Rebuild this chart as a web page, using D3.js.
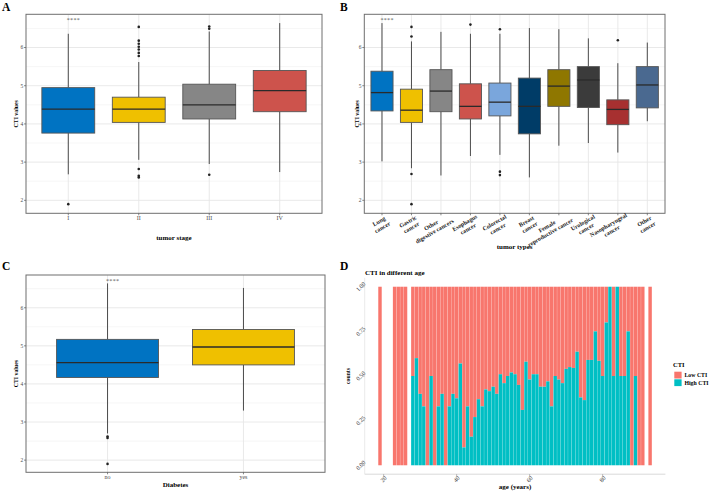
<!DOCTYPE html>
<html><head><meta charset="utf-8">
<script src="https://cdn.jsdelivr.net/npm/d3@7"></script>
<style>body{margin:0;background:#fff} svg text{font-family:"Liberation Serif","Times New Roman",serif}</style>
</head><body><svg id="c" width="713" height="491"></svg>
<script>
// ---------- DATA ----------
const jco = ["#0073C2","#EFC000","#868686","#CD534C","#7AA6DC","#003C67","#8F7700","#3B3B3B","#A73030","#4A6990"];
const sigLabel = "****";
const yTicks = [2,3,4,5,6];

const stageCats = ["I","II","III","IV"];
const stageQ1  = [3.76, 4.04, 4.13, 4.32];
const stageMed = [4.39, 4.39, 4.50, 4.87];
const stageQ3  = [4.95, 4.70, 5.04, 5.40];
const stageLo  = [2.68, 3.06, 2.95, 2.74];
const stageHi  = [6.36, 5.62, 6.42, 6.64];
const stageOut = [[1.90],[6.54,6.18,6.10,6.02,5.95,5.86,5.78,2.82,2.64,2.60],[6.55,6.49,2.67],[]];
const stageSig = 6.72;

const typeCats = ["Lung\ncancer","Gastric\ncancer","Other\ndigestive cancers","Esophagus\ncancer","Colorectal\ncancer","Breast\ncancer","Female\nreproductive cancer","Urological\ncancer","Nasopharyngeal\ncancer","Other\ncancer"];
const typeQ1  = [4.34,4.04,4.32,4.13,4.21,3.74,4.46,4.43,3.98,4.42];
const typeMed = [4.82,4.36,4.86,4.46,4.57,4.46,4.99,5.15,4.38,5.02];
const typeQ3  = [5.38,4.91,5.42,5.05,5.07,5.20,5.42,5.50,4.63,5.50];
const typeLo  = [3.02,2.84,2.65,3.16,3.19,2.60,3.43,3.50,3.25,4.07];
const typeHi  = [6.64,6.16,6.41,6.36,6.36,6.51,6.48,6.24,5.59,6.13];
const typeOut = [[],[6.54,6.29,2.69,1.90],[],[6.60],[6.48,2.75,2.66],[],[],[],[6.19],[]];
const typeSig = 6.72;

const diabCats = ["no","yes"];
const diabQ1  = [4.17, 4.50];
const diabMed = [4.56, 4.97];
const diabQ3  = [5.17, 5.43];
const diabLo  = [2.70, 3.30];
const diabHi  = [6.64, 6.52];
const diabOut = [[2.62,2.58,1.90],[]];
const diabSig = 6.70;

const ages = [19,23,24,25,26,28,29,30,31,32,33,34,35,36,37,38,39,40,41,42,43,44,45,46,47,48,49,50,51,52,53,54,55,56,57,58,59,60,61,62,63,64,65,66,67,68,69,70,71,72,73,74,75,76,77,78,79,80,81,82,83,84,85,86,87,88,89,90,91,93];
const highShare = [0,0,0,0,0,0.5,0.6,0.4,0.33,0,0.5,0,0.33,0.4,0,0.33,0.4,0.375,0.57,0.1,0.33,0.16,0.27,0.37,0.33,0.425,0.415,0.44,0.4,0.51,0.46,0.5,0.52,0.51,0.45,0.31,0.58,0.48,0.51,0.51,0.44,0.44,0.47,0.33,0.5,0.48,0.46,0.54,0.55,0.545,0.636,0.38,0.365,0.59,0.59,0.75,0.585,0.5,0.8,1,0.5,1,0.5,0.5,0.75,0,0.5,0,0,0];
const ageTicks = [20,40,60,80];
const shareTicks = [0,0.25,0.5,0.75,1];
const legendLabels = ["Low CTI","High CTI"];
const ctiColors = ["#F8766D","#00BFC4"];

// ---------- DRAW ----------
const svg = d3.select("#c");

function boxPanel(o){
  const g = svg.append("g");
  const x = d3.scalePoint().domain(d3.range(o.cats.length)).range([o.x0,o.x1]).padding(0.6);
  const y = d3.scaleLinear().domain(o.ydom).range([o.y1,o.y0]);
  const bw = x.step()*0.75;
  const minor = d3.range(Math.ceil(o.ydom[0]*2)/2, o.ydom[1], 0.5).filter(v=>v%1!==0);
  g.selectAll(".mn").data(minor).enter().append("line")
    .attr("x1",o.x0).attr("x2",o.x1).attr("y1",d=>y(d)).attr("y2",d=>y(d))
    .attr("stroke","#f0f0f0").attr("stroke-width",0.6);
  g.selectAll(".mj").data(yTicks).enter().append("line")
    .attr("x1",o.x0).attr("x2",o.x1).attr("y1",d=>y(d)).attr("y2",d=>y(d))
    .attr("stroke","#e6e6e6").attr("stroke-width",0.9);
  g.selectAll(".vx").data(d3.range(o.cats.length)).enter().append("line")
    .attr("y1",o.y0).attr("y2",o.y1).attr("x1",d=>x(d)).attr("x2",d=>x(d))
    .attr("stroke","#e6e6e6").attr("stroke-width",0.9);
  o.cats.forEach((c,i)=>{
    const cx = x(i);
    g.append("line").attr("x1",cx).attr("x2",cx).attr("y1",y(o.hi[i])).attr("y2",y(o.q3[i]))
      .attr("stroke","#3a3a3a").attr("stroke-width",0.9);
    g.append("line").attr("x1",cx).attr("x2",cx).attr("y1",y(o.q1[i])).attr("y2",y(o.lo[i]))
      .attr("stroke","#3a3a3a").attr("stroke-width",0.9);
    g.append("rect").attr("x",cx-bw/2).attr("width",bw).attr("y",y(o.q3[i])).attr("height",y(o.q1[i])-y(o.q3[i]))
      .attr("fill",jco[i]).attr("stroke","#555").attr("stroke-width",0.9);
    g.append("line").attr("x1",cx-bw/2).attr("x2",cx+bw/2).attr("y1",y(o.med[i])).attr("y2",y(o.med[i]))
      .attr("stroke","#2a2a2a").attr("stroke-width",1.3);
    g.selectAll(null).data(o.out[i]).enter().append("circle")
      .attr("cx",cx).attr("cy",d=>y(d)).attr("r",1.3).attr("fill","#222");
  });
  g.append("text").attr("x",x(0)-1.5).attr("y",y(o.sig)+2).attr("font-size",6).attr("fill","#555")
    .attr("letter-spacing",0.3).text(sigLabel);
  g.append("rect").attr("x",o.x0).attr("y",o.y0).attr("width",o.x1-o.x0).attr("height",o.y1-o.y0)
    .attr("fill","none").attr("stroke","#6e6e6e").attr("stroke-width",1);
  yTicks.forEach(t=>{
    g.append("line").attr("x1",o.x0-2).attr("x2",o.x0).attr("y1",y(t)).attr("y2",y(t)).attr("stroke","#555").attr("stroke-width",0.7);
    g.append("text").attr("x",o.x0-2.8).attr("y",y(t)).attr("dy","0.33em").attr("text-anchor","end")
      .attr("font-size",5.5).attr("fill","#4d4d4d").text(t);
  });
  o.cats.forEach((c,i)=>{
    g.append("line").attr("x1",x(i)).attr("x2",x(i)).attr("y1",o.y1).attr("y2",o.y1+2).attr("stroke","#555").attr("stroke-width",0.7);
  });
  if(!o.rot){
    o.cats.forEach((c,i)=>{
      g.append("text").attr("x",x(i)).attr("y",o.y1+6.5).attr("text-anchor","middle")
        .attr("font-size",6).attr("fill","#4d4d4d").text(c);
    });
  } else {
    const hj = 0.8;
    o.cats.forEach((c,i)=>{
      const lines = c.split("\n");
      const gg = g.append("g").attr("transform",`translate(${x(i)},${o.y1+3}) rotate(-30)`);
      const t = gg.append("text").attr("text-anchor","middle").attr("font-size",6).attr("font-weight","bold").attr("fill","#222");
      const spans = lines.map((l,k)=>t.append("tspan").attr("y",(0.8+k*1.15)*6).text(l));
      const w = d3.max(spans, s=>s.node().getComputedTextLength());
      spans.forEach(s=>s.attr("x",-(hj-0.5)*w));
    });
  }
  g.append("text").attr("x",(o.x0+o.x1)/2).attr("y",o.xtY).attr("text-anchor","middle")
    .attr("font-size",7).attr("font-weight","bold").text(o.xt);
  g.append("text").attr("transform",`translate(${o.ytX},${(o.y0+o.y1)/2}) rotate(-90)`).attr("text-anchor","middle")
    .attr("font-size",5.8).attr("font-weight","bold").text("CTI values");
}

boxPanel({cats:stageCats,q1:stageQ1,med:stageMed,q3:stageQ3,lo:stageLo,hi:stageHi,out:stageOut,sig:stageSig,
  x0:26,x1:322,y0:14.3,y1:213.3,ydom:[1.66,6.87],xt:"tumor stage",xtY:239.5,ytX:17.5});
boxPanel({cats:typeCats,q1:typeQ1,med:typeMed,q3:typeQ3,lo:typeLo,hi:typeHi,out:typeOut,sig:typeSig,
  x0:364.3,x1:665,y0:14.3,y1:213.3,ydom:[1.66,6.87],xt:"tumor types",xtY:249,ytX:358.5,rot:true});
boxPanel({cats:diabCats,q1:diabQ1,med:diabMed,q3:diabQ3,lo:diabLo,hi:diabHi,out:diabOut,sig:diabSig,
  x0:26,x1:325,y0:275,y1:472.3,ydom:[1.68,6.86],xt:"Diabetes",xtY:487,ytX:17.5});

// Panel D
(function(){
  const x0=364.7,x1=665.4,y0=277.8,y1=474.2;
  const g = svg.append("g");
  const x = d3.scaleLinear().domain([14.81,97.19]).range([x0,x1]);
  const y = d3.scaleLinear().domain([-0.05,1.05]).range([y1,y0]);
  const bw = (x(1)-x(0))*0.94;
  ages.forEach((a,i)=>{
    const h = highShare[i];
    g.append("rect").attr("x",x(a)-bw/2).attr("width",bw).attr("y",y(1)).attr("height",y(h)-y(1)).attr("fill",ctiColors[0]);
    if(h>0) g.append("rect").attr("x",x(a)-bw/2).attr("width",bw).attr("y",y(h)).attr("height",y(0)-y(h)).attr("fill",ctiColors[1]);
  });
  g.append("line").attr("x1",x0).attr("x2",x1).attr("y1",y1).attr("y2",y1).attr("stroke","#cfcfcf").attr("stroke-width",0.8);
  g.append("line").attr("x1",x0).attr("x2",x0).attr("y1",y0).attr("y2",y1).attr("stroke","#e4e4e4").attr("stroke-width",0.8);
  shareTicks.forEach(t=>{
    g.append("line").attr("x1",x0-2).attr("x2",x0).attr("y1",y(t)).attr("y2",y(t)).attr("stroke","#888").attr("stroke-width",0.6);
    g.append("text").attr("transform",`translate(${x0-4},${y(t)}) rotate(-45)`).attr("text-anchor","middle").attr("dy","0.33em")
      .attr("font-size",6).attr("fill","#333").text(d3.format(".2f")(t));
  });
  ageTicks.forEach(t=>{
    g.append("line").attr("x1",x(t)).attr("x2",x(t)).attr("y1",y1).attr("y2",y1+2).attr("stroke","#888").attr("stroke-width",0.6);
    g.append("text").attr("transform",`translate(${x(t)},${y1+5})rotate(-45)`).attr("text-anchor","middle").attr("dy","0.33em")
      .attr("font-size",6).attr("fill","#333").text(t);
  });
  g.append("text").attr("x",(x0+x1)/2).attr("y",489).attr("text-anchor","middle").attr("font-size",7).attr("font-weight","bold").text("age (years)");
  g.append("text").attr("transform",`translate(350,${(y0+y1)/2}) rotate(-90)`).attr("text-anchor","middle").attr("font-size",5.8).attr("font-weight","bold").text("counts");
  g.append("text").attr("x",365).attr("y",274.5).attr("font-size",7).attr("font-weight","bold").text("CTI in different age");
  g.append("text").attr("x",673).attr("y",367).attr("font-size",6.5).attr("font-weight","bold").text("CTI");
  legendLabels.forEach((l,i)=>{
    g.append("rect").attr("x",674.3).attr("y",371.7+i*7.6).attr("width",7.3).attr("height",6.8).attr("fill",ctiColors[i]);
    g.append("text").attr("x",684.5).attr("y",377.4+i*7.6).attr("font-size",5.8).attr("font-weight","bold").text(l);
  });
})();

[["A",2,11],["B",340,11],["C",2,269.5],["D",340,269.5]].forEach(([t,xx,yy])=>{
  svg.append("text").attr("x",xx).attr("y",yy).attr("font-size",11.5).attr("font-weight","bold").text(t);
});
</script></body></html>
